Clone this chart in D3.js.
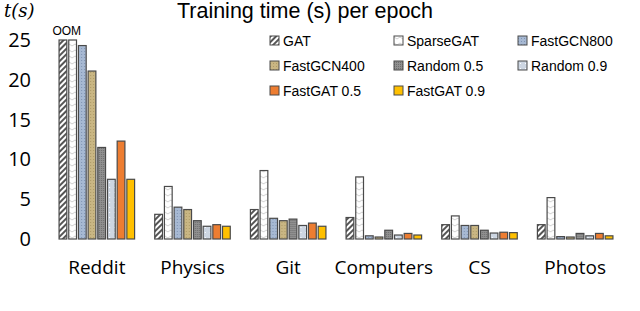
<html>
<head>
<meta charset="utf-8">
<script src="https://d3js.org/d3.v7.min.js"></script>
<style>
  body { margin: 0; background: #fff; }
</style>
</head>
<body>
<div id="chart"></div>
<script>
// data (seconds per epoch)
var datasets = ["Reddit", "Physics", "Git", "Computers", "CS", "Photos"];
var methods = ["GAT", "SparseGAT", "FastGCN800", "FastGCN400", "Random 0.5", "Random 0.9", "FastGAT 0.5", "FastGAT 0.9"];
var gat        = [25, 3.1, 3.7, 2.7, 1.8, 1.8];
var sparseGat  = [25, 6.6, 8.6, 7.8, 2.9, 5.2];
var fastGcn800 = [24.3, 4.0, 2.6, 0.4, 1.7, 0.3];
var fastGcn400 = [21.1, 3.7, 2.3, 0.25, 1.7, 0.25];
var random05   = [11.5, 2.3, 2.5, 1.1, 1.1, 0.7];
var random09   = [7.5, 1.6, 1.7, 0.5, 0.75, 0.4];
var fastGat05  = [12.3, 1.8, 2.0, 0.7, 0.85, 0.7];
var fastGat09  = [7.5, 1.6, 1.6, 0.5, 0.8, 0.4];
var yTicks = [0, 5, 10, 15, 20, 25];

var series = [gat, sparseGat, fastGcn800, fastGcn400, random05, random09, fastGat05, fastGat09];
var fills = ["url(#pGat)", "url(#pSparse)", "url(#pGcn800)", "url(#pGcn400)",
             "url(#pRand05)", "url(#pRand09)", "#ed7d31", "#ffc000"];

var width = 640, height = 311;
var svg = d3.select("#chart").append("svg")
    .attr("width", width).attr("height", height)
    .style("font-family", "'Liberation Sans', Arial, sans-serif");

// patterns
var defs = svg.append("defs");
function pattern(id, bg, size) {
  var p = defs.append("pattern").attr("id", id)
      .attr("patternUnits", "userSpaceOnUse")
      .attr("width", size).attr("height", size);
  p.append("rect").attr("width", size).attr("height", size).attr("fill", bg);
  return p;
}
var p1 = pattern("pGat", "#fff", 4).attr("patternTransform", "rotate(45)");
p1.append("rect").attr("width", 2).attr("height", 4).attr("fill", "#555");
var p2 = pattern("pSparse", "#fff", 6);
p2.append("path").attr("d", "M0,2 L3,4 L6,2").attr("stroke", "#d0d0d0").attr("fill", "none").attr("stroke-width", 1);
var p3 = pattern("pGcn800", "#a7b9d3", 3);
p3.append("rect").attr("width", 1).attr("height", 1).attr("fill", "#7f93b3");
var p4 = pattern("pGcn400", "#c9b683", 3);
p4.append("rect").attr("width", 1).attr("height", 1).attr("fill", "#ad9a66");
var p5 = pattern("pRand05", "#909090", 2);
p5.append("rect").attr("width", 1).attr("height", 1).attr("fill", "#6e6e6e");
var p6 = pattern("pRand09", "#cdd6e2", 5);
p6.append("rect").attr("x", 2).attr("y", 2).attr("width", 1).attr("height", 1).attr("fill", "#fff");

// scales
var x = d3.scaleBand().domain(datasets).range([49, 623])
    .paddingInner(0.17).paddingOuter(0.085);
var xs = d3.scaleBand().domain(methods).range([0, x.bandwidth()]).padding(0.2);
var y = d3.scaleLinear().domain([0, 25]).range([239, 40]);

// y axis (labels only)
var yAxis = svg.append("g")
    .attr("transform", "translate(31,0)")
    .call(d3.axisLeft(y).tickValues(yTicks).tickSize(0).tickPadding(0));
yAxis.select(".domain").remove();
yAxis.selectAll("text").style("font-size", "20px").style("fill", "#000")
    .style("font-family", "'Open Sans', sans-serif");

// x axis (labels only)
var xAxis = svg.append("g")
    .attr("transform", "translate(0,260)")
    .call(d3.axisBottom(x).tickSize(0).tickPadding(0));
xAxis.select(".domain").remove();
xAxis.selectAll("text").style("font-size", "19px").style("fill", "#000")
    .style("font-family", "'Open Sans', sans-serif");

// bars
var groups = svg.selectAll("g.grp").data(datasets).enter().append("g")
    .attr("class", "grp")
    .attr("transform", function (d) { return "translate(" + x(d) + ",0)"; });
groups.selectAll("rect")
    .data(function (d, i) { return methods.map(function (m, j) { return { m: m, v: series[j][i], j: j }; }); })
    .enter().append("rect")
    .attr("x", function (d) { return xs(d.m); })
    .attr("y", function (d) { return y(d.v); })
    .attr("width", xs.bandwidth())
    .attr("height", function (d) { return y(0) - y(d.v); })
    .attr("fill", function (d) { return fills[d.j]; })
    .attr("stroke", "#4a4a4a")
    .attr("stroke-width", 1.2);

// OOM marker
svg.append("text")
    .attr("x", x("Reddit") + xs("SparseGAT") - 2)
    .attr("y", y(25) - 5)
    .attr("text-anchor", "middle")
    .style("font-size", "12px")
    .text("OOM");

// title and axis name
svg.append("text")
    .attr("x", 305).attr("y", 18)
    .attr("text-anchor", "middle")
    .style("font-size", "21.5px")
    .text("Training time (s) per epoch");
svg.append("text")
    .attr("x", 4).attr("y", 17)
    .style("font-family", "'DejaVu Serif', serif")
    .style("font-style", "italic")
    .style("font-size", "18px")
    .text("t(s)");

// legend, 3 columns
var legend = svg.selectAll("g.leg").data(methods).enter().append("g")
    .attr("class", "leg")
    .attr("transform", function (d, i) {
      return "translate(" + [270, 394, 518][i % 3] + "," + (41 + Math.floor(i / 3) * 25) + ")";
    });
legend.append("rect")
    .attr("x", 0).attr("y", -5).attr("width", 9).attr("height", 9)
    .attr("fill", function (d, i) { return fills[i]; })
    .attr("stroke", "#4a4a4a").attr("stroke-width", 1);
legend.append("text")
    .attr("x", 13).attr("y", 0).attr("dy", "0.35em")
    .style("font-size", "14px")
    .text(function (d) { return d; });
</script>
</body>
</html>
